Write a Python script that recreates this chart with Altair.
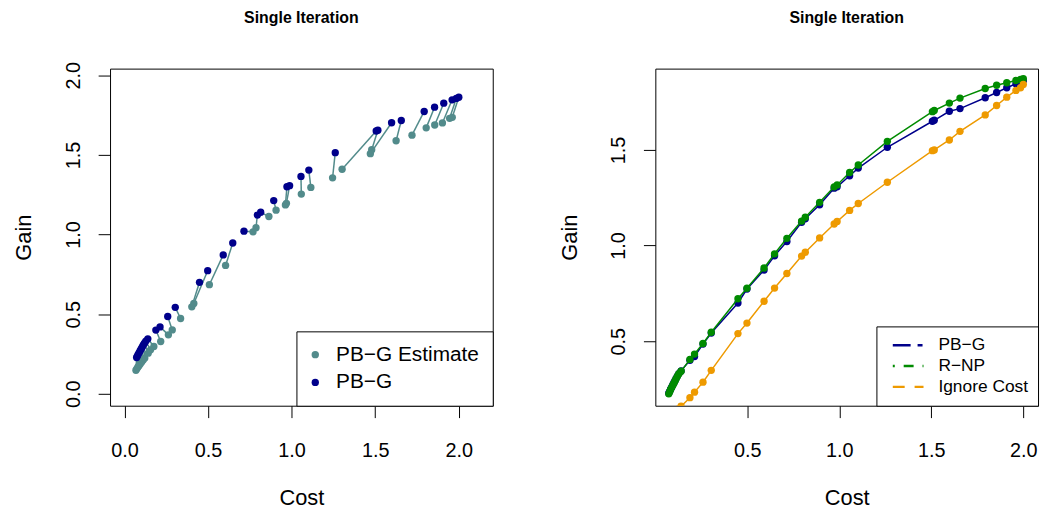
import altair as alt
import pandas as pd

# ---------------- data ----------------
# PB-G (true) cost / gain, shared by both panels
pbg_cost = [0.073, 0.078, 0.083, 0.089, 0.095, 0.101, 0.107, 0.113, 0.120, 0.128, 0.140,
            0.188, 0.213, 0.259, 0.304, 0.449, 0.498, 0.591, 0.648, 0.715, 0.795, 0.815,
            0.893, 0.972, 0.988, 1.056, 1.103, 1.261, 1.506, 1.516, 1.598, 1.656, 1.793,
            1.855, 1.910, 1.960, 1.985, 2.000]
pbg_gain = [0.228, 0.238, 0.249, 0.260, 0.272, 0.283, 0.294, 0.306, 0.318, 0.331, 0.345,
            0.400, 0.420, 0.485, 0.543, 0.700, 0.773, 0.872, 0.947, 1.021, 1.122, 1.140,
            1.213, 1.300, 1.307, 1.365, 1.405, 1.514, 1.650, 1.655, 1.702, 1.716, 1.773,
            1.800, 1.825, 1.846, 1.855, 1.862]
# PB-G Estimate (left panel)
est_cost = [0.069, 0.075, 0.081, 0.088, 0.095, 0.103, 0.112, 0.122, 0.142, 0.156, 0.176,
            0.217, 0.263, 0.286, 0.336, 0.403, 0.415, 0.508, 0.605, 0.769, 0.787, 0.864,
            0.907, 0.963, 0.969, 1.058, 1.115, 1.245, 1.302, 1.479, 1.471, 1.625, 1.720,
            1.805, 1.856, 1.902, 1.945, 1.961]
est_gain = [0.148, 0.158, 0.168, 0.178, 0.188, 0.200, 0.212, 0.224, 0.255, 0.276, 0.297,
            0.328, 0.370, 0.401, 0.473, 0.546, 0.567, 0.685, 0.806, 1.017, 1.043, 1.113,
            1.153, 1.186, 1.196, 1.254, 1.296, 1.356, 1.410, 1.533, 1.508, 1.589, 1.624,
            1.670, 1.688, 1.701, 1.730, 1.736]
# right panel, same cost budgets
rnp_gain = [0.225, 0.236, 0.248, 0.259, 0.270, 0.281, 0.292, 0.304, 0.317, 0.330, 0.343,
            0.405, 0.433, 0.488, 0.547, 0.722, 0.777, 0.883, 0.957, 1.038, 1.128, 1.148,
            1.226, 1.307, 1.317, 1.382, 1.421, 1.545, 1.700, 1.706, 1.745, 1.771, 1.821,
            1.838, 1.851, 1.863, 1.868, 1.872]
ign_gain = [0.085, 0.092, 0.098, 0.105, 0.112, 0.118, 0.125, 0.131, 0.139, 0.148, 0.160,
            0.205, 0.234, 0.286, 0.348, 0.540, 0.595, 0.709, 0.778, 0.854, 0.945, 0.965,
            1.040, 1.113, 1.126, 1.184, 1.220, 1.331, 1.496, 1.500, 1.552, 1.597, 1.683,
            1.732, 1.776, 1.811, 1.825, 1.842]

left_series = ["PB\u2212G Estimate", "PB\u2212G"]
right_series = ["PB\u2212G", "R\u2212NP", "Ignore Cost"]
left_colors = ["#528B8B", "#00008B"]
right_colors = ["#00008B", "#008B00", "#EE9A00"]
right_dashes = [[18, 7, 5, 7], [2, 9, 10, 9], [12, 10]]

FONT = "Liberation Sans"
n = len(pbg_cost)

left_pts = pd.DataFrame({
    "cost": est_cost + pbg_cost,
    "gain": est_gain + pbg_gain,
    "kind": [left_series[0]] * n + [left_series[1]] * n,
    "rank": [0] * n + [1] * n,
})
pairs = pd.DataFrame({"ec": est_cost, "eg": est_gain, "tc": pbg_cost, "tg": pbg_gain})
right_df = pd.DataFrame({
    "cost": pbg_cost * 3,
    "gain": pbg_gain + rnp_gain + ign_gain,
    "method": [right_series[0]] * n + [right_series[1]] * n + [right_series[2]] * n,
})

W, H = 386, 340


def xaxis(vals):
    return alt.Axis(title="Cost", values=vals, format=".1f", grid=False, domain=False,
                    tickSize=12, tickColor="black", labelFontSize=20, labelColor="black",
                    labelPadding=23, titleFontSize=22, titleFontWeight="normal",
                    titleColor="black", titlePadding=30, minExtent=53, maxExtent=53,
                    labelFlush=False)


def yaxis(vals):
    return alt.Axis(title="Gain", values=vals, format=".1f", grid=False, domain=False,
                    tickSize=12, tickColor="black", labelFontSize=20, labelColor="black",
                    labelAngle=270, labelAlign="center", labelBaseline="middle",
                    labelPadding=25, titleFontSize=22, titleFontWeight="normal",
                    titleColor="black", titleAngle=270, titleBaseline="bottom",
                    titlePadding=25, minExtent=50, maxExtent=50, labelFlush=False)


def title(off):
    return alt.TitleParams("Single Iteration", fontSize=16, fontWeight="bold", anchor="middle",
                           frame="group", baseline="alphabetic", offset=off, color="black")


# ---------------- left panel ----------------
xL = alt.Scale(domain=[-0.086, 2.203], nice=False, zero=False)
yL = alt.Scale(domain=[-0.075, 2.042], nice=False, zero=False)
xaL = xaxis([0, 0.5, 1, 1.5, 2])
yaL = yaxis([0, 0.5, 1, 1.5, 2])

segs = alt.Chart(pairs).mark_rule(color=left_colors[0], strokeWidth=1.5, clip=True).encode(
    x=alt.X("ec:Q", scale=xL, axis=xaL),
    y=alt.Y("eg:Q", scale=yL, axis=yaL),
    x2="tc:Q", y2="tg:Q",
)
pts = alt.Chart(left_pts).mark_circle(size=55, opacity=1, clip=True).encode(
    x=alt.X("cost:Q", scale=xL, axis=xaL),
    y=alt.Y("gain:Q", scale=yL, axis=yaL),
    color=alt.Color("kind:N", scale=alt.Scale(domain=left_series, range=left_colors),
                    legend=alt.Legend(title=None, orient="bottom-right", offset=0,
                                      padding=13, strokeColor="black", fillColor="white",
                                      labelFontSize=21, labelColor="black", labelLimit=300,
                                      symbolType="circle", symbolSize=55, symbolOffset=-4.5,
                                      symbolStrokeWidth=0, labelOffset=10.5, rowPadding=6,
                                      cornerRadius=0)),
    order=alt.Order("rank:Q"),
)

left = alt.layer(segs, pts).properties(width=W, height=H, title=title(23))

# ---------------- right panel ----------------
xR = alt.Scale(domain=[0.0, 2.08], nice=False, zero=False)
yR = alt.Scale(domain=[0.163, 1.925], nice=False, zero=False)
xaR = xaxis([0.5, 1, 1.5, 2])
yaR = yaxis([0.5, 1, 1.5])
cscale = alt.Scale(domain=right_series, range=right_colors)
dscale = alt.Scale(domain=right_series, range=right_dashes)
rlegend = alt.Legend(title=None, orient="bottom-right", offset=0,
                     padding=10, strokeColor="black", fillColor="white",
                     labelFontSize=17.5, labelColor="black", labelLimit=300,
                     symbolType="M-2,0H2", symbolSize=240,
                     symbolStrokeWidth=2.5, symbolOffset=13,
                     labelOffset=21.5, rowPadding=3, cornerRadius=0)

layers = []
for s in right_series:
    base = alt.Chart(right_df).transform_filter(alt.datum.method == s)
    enc = dict(
        x=alt.X("cost:Q", scale=xR, axis=xaR),
        y=alt.Y("gain:Q", scale=yR, axis=yaR),
        color=alt.Color("method:N", scale=cscale, legend=rlegend),
    )
    layers.append(base.mark_line(strokeWidth=1.5, clip=True).encode(**enc))
    layers.append(base.mark_circle(size=55, opacity=1, clip=True).encode(**enc))

# legend-only layer (draws nothing, supplies the dash patterns of the legend)
legend_layer = alt.Chart(right_df).transform_filter("false").mark_line(clip=True).encode(
    x=alt.X("cost:Q", scale=xR, axis=xaR),
    y=alt.Y("gain:Q", scale=yR, axis=yaR),
    color=alt.Color("method:N", scale=cscale, legend=rlegend),
    strokeDash=alt.StrokeDash("method:N", scale=dscale, legend=rlegend),
)
layers.append(legend_layer)

right = alt.layer(*layers).properties(width=W, height=H, title=title(30))

chart = alt.hconcat(left, right, spacing=64).resolve_scale(
    color="independent", strokeDash="independent"
).resolve_legend(color="independent", strokeDash="independent").configure(
    font=FONT,
    padding={"left": 12, "top": 7, "right": 2, "bottom": 1},
).configure_view(stroke="black", strokeWidth=1)

chart.save("out.html", embed_options={"renderer": "svg", "actions": False})
